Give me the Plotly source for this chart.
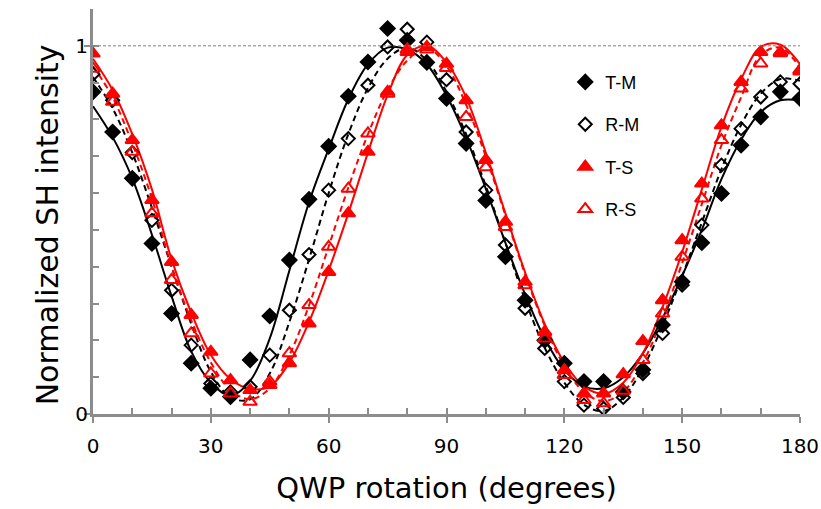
import plotly.graph_objects as go

# QWP angles (degrees), measured every 5 degrees
angle = list(range(0, 181, 5))

# Measured normalized SH intensity
tm = [0.875, 0.766, 0.640, 0.463, 0.273, 0.138, 0.070, 0.047, 0.147, 0.266,
      0.418, 0.583, 0.727, 0.863, 0.956, 1.047, 1.015, 0.955, 0.857, 0.735,
      0.580, 0.427, 0.309, 0.200, 0.138, 0.088, 0.088, 0.060, 0.120, 0.242,
      0.359, 0.465, 0.599, 0.730, 0.807, 0.875, 0.857]
rm = [0.923, 0.852, 0.710, 0.526, 0.336, 0.187, 0.083, 0.060, 0.074, 0.160,
      0.282, 0.433, 0.608, 0.748, 0.893, 0.997, 1.045, 1.010, 0.908, 0.766,
      0.608, 0.459, 0.287, 0.178, 0.088, 0.024, 0.015, 0.045, 0.110, 0.219,
      0.350, 0.513, 0.676, 0.775, 0.861, 0.902, 0.897]
ts = [0.979, 0.870, 0.744, 0.581, 0.413, 0.269, 0.169, 0.092, 0.065, 0.079,
      0.138, 0.246, 0.386, 0.545, 0.712, 0.875, 0.983, 0.997, 0.951, 0.852,
      0.690, 0.522, 0.359, 0.223, 0.119, 0.056, 0.056, 0.108, 0.198, 0.309,
      0.472, 0.626, 0.784, 0.902, 0.983, 0.983, 0.934]
rs = [0.938, 0.848, 0.712, 0.545, 0.364, 0.219, 0.110, 0.056, 0.033, 0.088,
      0.165, 0.296, 0.454, 0.612, 0.762, 0.870, 0.990, 0.990, 0.940, 0.807,
      0.670, 0.508, 0.350, 0.205, 0.106, 0.038, 0.029, 0.063, 0.147, 0.273,
      0.427, 0.585, 0.744, 0.884, 0.952, 0.980, 0.930]

# Fitted curves at the same angles
tm_fit = [0.836, 0.752, 0.640, 0.487, 0.320, 0.170, 0.085, 0.050, 0.090, 0.205,
          0.390, 0.575, 0.720, 0.855, 0.950, 0.995, 0.990, 0.950, 0.865, 0.750,
          0.612, 0.465, 0.325, 0.205, 0.120, 0.075, 0.070, 0.100, 0.165, 0.260,
          0.375, 0.500, 0.638, 0.745, 0.820, 0.852, 0.852]
rm_fit = [0.915, 0.830, 0.710, 0.560, 0.400, 0.245, 0.115, 0.045, 0.040, 0.110,
          0.250, 0.420, 0.600, 0.760, 0.885, 0.965, 0.995, 0.960, 0.875, 0.760,
          0.620, 0.465, 0.310, 0.180, 0.085, 0.025, 0.008, 0.045, 0.125, 0.240,
          0.375, 0.520, 0.665, 0.785, 0.870, 0.910, 0.905]
ts_fit = [0.965, 0.880, 0.760, 0.610, 0.420, 0.275, 0.160, 0.095, 0.068, 0.075,
          0.140, 0.250, 0.390, 0.545, 0.710, 0.866, 0.975, 1.000, 0.955, 0.860,
          0.710, 0.545, 0.385, 0.245, 0.140, 0.075, 0.055, 0.085, 0.165, 0.290,
          0.440, 0.610, 0.780, 0.909, 0.997, 1.003, 0.950]
rs_fit = [0.945, 0.860, 0.735, 0.585, 0.400, 0.255, 0.140, 0.065, 0.040, 0.070,
          0.160, 0.295, 0.455, 0.615, 0.760, 0.880, 0.960, 0.995, 0.945, 0.840,
          0.700, 0.540, 0.380, 0.240, 0.130, 0.060, 0.035, 0.060, 0.140, 0.260,
          0.410, 0.570, 0.730, 0.860, 0.975, 0.995, 0.940]

# tick labels
x_ticks = [0, 30, 60, 90, 120, 150, 180]
y_ticks = [0, 1]

BLACK = "black"
RED = "#ff0000"
AXIS = "#8c8c8c"

fig = go.Figure()

# fit lines first so the markers sit on top
fits = [
    (tm_fit, BLACK, "solid"),
    (rm_fit, BLACK, "6px,4px"),
    (ts_fit, RED, "solid"),
    (rs_fit, RED, "6px,4px"),
]
for ys, color, dash in fits:
    fig.add_trace(go.Scatter(
        x=angle, y=ys, mode="lines",
        line=dict(color=color, width=2, dash=dash, shape="spline", smoothing=1),
        showlegend=False, hoverinfo="skip",
    ))

# measured points
series = [
    ("T-M", tm, "diamond", BLACK, 11),
    ("R-M", rm, "diamond-open", BLACK, 10),
    ("T-S", ts, "triangle-up", RED, 12),
    ("R-S", rs, "triangle-up-open", RED, 12),
]
for name, ys, symbol, color, size in series:
    fig.add_trace(go.Scatter(
        x=angle, y=ys, mode="markers", name=name, legendgroup=name,
        marker=dict(symbol=symbol, color=color, size=size,
                    line=dict(color=color, width=2)),
    ))

# reference line at 1
fig.add_hline(y=1, line=dict(color="#808080", width=1, dash="3px,2px"))

# y title as an annotation so it can sit a little below the middle
fig.add_annotation(text="Normalized SH intensity", textangle=-90,
                   xref="paper", yref="paper", x=-0.092, y=0.467,
                   showarrow=False,
                   font=dict(family="DejaVu Sans", size=30, color="black"))

tick_font = dict(family="DejaVu Sans", size=20, color="black")

fig.update_layout(
    width=821, height=509,
    margin=dict(l=93, r=21, t=9, b=95),
    plot_bgcolor="white", paper_bgcolor="white",
    legend=dict(x=0.668, y=0.865, xanchor="left", yanchor="top",
                itemwidth=30,
                font=dict(family="Liberation Sans, Arial", size=18, color="black"),
                tracegroupgap=16, bgcolor="rgba(0,0,0,0)"),
    xaxis=dict(
        range=[0, 180], tickvals=x_ticks, ticks="outside", ticklen=6,
        tickwidth=2, tickcolor=AXIS, showline=True, linecolor=AXIS,
        linewidth=3, showgrid=False, zeroline=False, tickfont=tick_font,
        automargin=False, ticklabelstandoff=6,
        title=dict(text="QWP rotation (degrees)",
                   font=dict(family="DejaVu Sans", size=29, color="black"),
                   standoff=21),
    ),
    yaxis=dict(
        range=[0, 1.1], tickvals=y_ticks, ticks="outside", ticklen=6,
        tickwidth=2, tickcolor=AXIS, showline=True, linecolor=AXIS,
        linewidth=3, showgrid=False, zeroline=False, tickfont=tick_font,
        automargin=False, ticklabelstandoff=-8,
    ),
    # overlay axes carrying the inner minor ticks
    xaxis2=dict(range=[0, 180], overlaying="x", anchor="y", side="bottom",
                dtick=10, tick0=0, ticks="inside", ticklen=6, tickwidth=2,
                tickcolor=AXIS, showticklabels=False, showgrid=False,
                zeroline=False, showline=False, automargin=False),
    yaxis2=dict(range=[0, 1.1], overlaying="y", anchor="x", side="left",
                dtick=0.1, tick0=0, ticks="inside", ticklen=6, tickwidth=2,
                tickcolor=AXIS, showticklabels=False, showgrid=False,
                zeroline=False, showline=False, automargin=False),
)

# an invisible trace so the overlay axes get drawn
fig.add_trace(go.Scatter(x=[0], y=[0], xaxis="x2", yaxis="y2", mode="markers",
                         marker=dict(opacity=0), showlegend=False,
                         hoverinfo="skip"))

# drop the default page margin so the figure sits at the window corner
fig.write_html("out.html", config={"displayModeBar": False},
               post_script="document.body.style.margin='0';")
